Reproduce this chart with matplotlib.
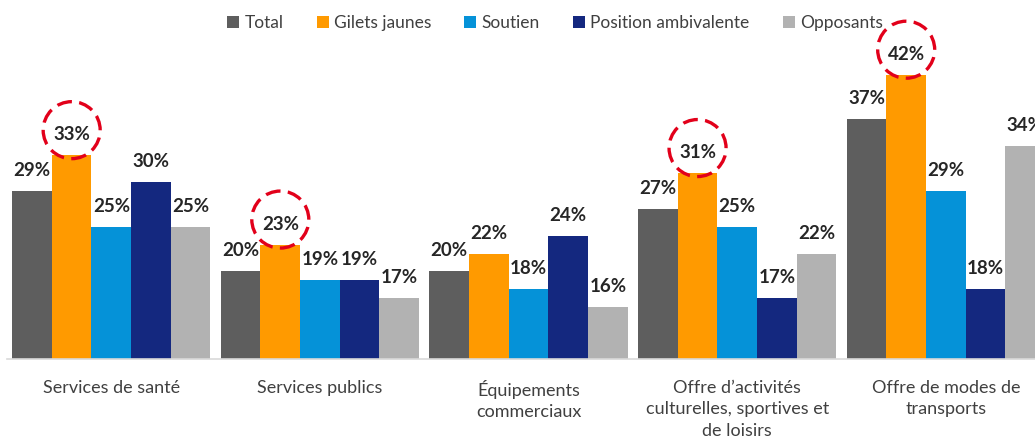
import matplotlib
matplotlib.use("Agg")
import matplotlib.pyplot as plt
from matplotlib.patches import Ellipse, Patch
from matplotlib.transforms import ScaledTranslation

categories = ["Services de santé", "Services publics", "Équipements\ncommerciaux",
              "Offre d’activités\nculturelles, sportives et\nde loisirs",
              "Offre de modes de\ntransports"]
series_names = ["Total", "Gilets jaunes", "Soutien", "Position ambivalente", "Opposants"]
total = [29, 20, 20, 27, 37]
gilets_jaunes = [33, 23, 22, 31, 42]
soutien = [25, 19, 18, 25, 29]
ambivalente = [30, 19, 24, 17, 18]
opposants = [25, 17, 16, 22, 34]
highlighted = [0, 1, 3, 4]  # categories where the Gilets jaunes value is circled

series = [total, gilets_jaunes, soutien, ambivalente, opposants]
colors = ["#5E5E5E", "#FF9A00", "#0592D8", "#14287F", "#B2B2B2"]

W, H = 1035, 443
fig = plt.figure(figsize=(W / 100, H / 100), dpi=100)
ax = fig.add_axes([7 / W, 84 / H, (W - 7) / W, 344 / H])

bw = 0.19
for j, (vals, col) in enumerate(zip(series, colors)):
    xs = [i + (j - 2) * bw for i in range(len(categories))]
    ax.bar(xs, [v - 10.2 for v in vals], bottom=10.2, width=bw, color=col,
           label=series_names[j], linewidth=0)
    for x, v in zip(xs, vals):
        ax.annotate(f"{v}%", (x, v), xytext=(0, 10.8), textcoords="offset points",
                    ha="center", va="baseline", fontsize=13.5, fontweight="bold",
                    color="#262626", family="Lato", annotation_clip=False)

for i in highlighted:
    x = i + (1 - 2) * bw
    v = gilets_jaunes[i]
    tr = fig.dpi_scale_trans + ScaledTranslation(x, v, ax.transData)
    e = Ellipse((0, 0.25), 0.57, 0.57, transform=tr, fill=False,
                edgecolor="#E2001A", linewidth=2.4, linestyle=(0, (4.5, 2.2)),
                clip_on=False, zorder=5)
    ax.add_artist(e)

ax.set_xlim(-0.5, (W - 111) / 208.7)
ax.set_ylim(10.2, 10.2 + 344 / 8.94)
ax.set_xticks(range(len(categories)))
ax.set_xticklabels(categories, fontsize=13, color="#404040", family="Lato",
                   linespacing=1.42)
ax.tick_params(axis="x", length=0, pad=15)
ax.set_yticks([])
for s in ["top", "left", "right"]:
    ax.spines[s].set_visible(False)
ax.spines["bottom"].set_color("#D9D9D9")
ax.spines["bottom"].set_linewidth(1.2)

handles = [Patch(facecolor=c, label=n) for c, n in zip(colors, series_names)]
fig.legend(handles=handles, loc="center", bbox_to_anchor=(555 / W, 1 - 23 / H),
           ncol=5, frameon=False, handlelength=0.7, handleheight=0.7,
           handletextpad=0.3, columnspacing=1.9,
           prop={"family": "Lato", "size": 12.5}, labelcolor="#404040")

fig.savefig("out.png", dpi=100)
